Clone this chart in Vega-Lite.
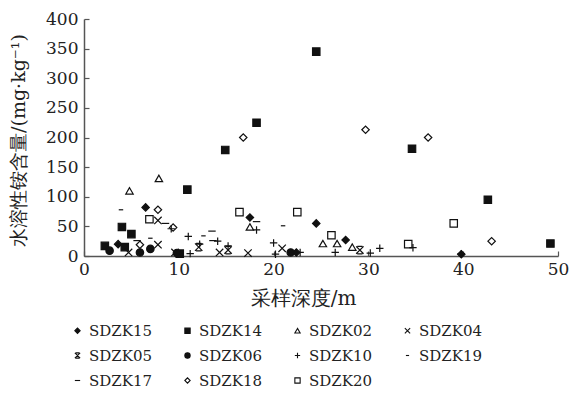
{
  "$schema": "https://vega.github.io/schema/vega-lite/v6.json",
  "autosize": "none",
  "width": 474,
  "height": 237,
  "padding": {"left": 84, "top": 19, "right": 11, "bottom": 138},
  "background": "white",
  "config": {
    "view": {"stroke": null},
    "font": "DejaVu Serif"
  },
  "data": {
    "values": [
      {"series": "SDZK15", "depth": 3.6, "value": 20},
      {"series": "SDZK15", "depth": 6.5, "value": 82},
      {"series": "SDZK15", "depth": 17.5, "value": 65},
      {"series": "SDZK15", "depth": 24.5, "value": 55},
      {"series": "SDZK15", "depth": 27.6, "value": 27},
      {"series": "SDZK15", "depth": 22.4, "value": 6},
      {"series": "SDZK15", "depth": 39.8, "value": 3},
      {"series": "SDZK14", "depth": 2.2, "value": 17},
      {"series": "SDZK14", "depth": 4.0, "value": 49},
      {"series": "SDZK14", "depth": 5.0, "value": 37},
      {"series": "SDZK14", "depth": 4.3, "value": 15},
      {"series": "SDZK14", "depth": 10.1, "value": 4},
      {"series": "SDZK14", "depth": 10.9, "value": 112},
      {"series": "SDZK14", "depth": 14.9, "value": 179},
      {"series": "SDZK14", "depth": 18.2, "value": 225},
      {"series": "SDZK14", "depth": 24.5, "value": 345},
      {"series": "SDZK14", "depth": 34.6, "value": 181},
      {"series": "SDZK14", "depth": 42.6, "value": 95},
      {"series": "SDZK14", "depth": 49.2, "value": 21},
      {"series": "SDZK02", "depth": 4.8, "value": 110},
      {"series": "SDZK02", "depth": 7.9, "value": 131},
      {"series": "SDZK02", "depth": 17.5, "value": 49},
      {"series": "SDZK02", "depth": 25.2, "value": 21},
      {"series": "SDZK02", "depth": 26.7, "value": 21},
      {"series": "SDZK02", "depth": 28.3, "value": 15},
      {"series": "SDZK04", "depth": 4.7, "value": 6},
      {"series": "SDZK04", "depth": 7.8, "value": 60},
      {"series": "SDZK04", "depth": 7.8, "value": 19},
      {"series": "SDZK04", "depth": 9.6, "value": 6},
      {"series": "SDZK04", "depth": 14.3, "value": 6},
      {"series": "SDZK04", "depth": 17.3, "value": 5},
      {"series": "SDZK04", "depth": 20.9, "value": 13},
      {"series": "SDZK05", "depth": 12.1, "value": 15},
      {"series": "SDZK05", "depth": 15.2, "value": 10},
      {"series": "SDZK05", "depth": 29.1, "value": 10},
      {"series": "SDZK06", "depth": 2.7, "value": 9},
      {"series": "SDZK06", "depth": 5.9, "value": 6},
      {"series": "SDZK06", "depth": 7.0, "value": 12},
      {"series": "SDZK06", "depth": 9.8, "value": 5},
      {"series": "SDZK06", "depth": 21.8, "value": 6},
      {"series": "SDZK10", "depth": 9.2, "value": 46},
      {"series": "SDZK10", "depth": 11.0, "value": 33},
      {"series": "SDZK10", "depth": 11.2, "value": 4},
      {"series": "SDZK10", "depth": 12.2, "value": 20},
      {"series": "SDZK10", "depth": 14.1, "value": 25},
      {"series": "SDZK10", "depth": 15.2, "value": 17},
      {"series": "SDZK10", "depth": 18.2, "value": 44},
      {"series": "SDZK10", "depth": 20.0, "value": 22},
      {"series": "SDZK10", "depth": 20.2, "value": 3},
      {"series": "SDZK10", "depth": 22.8, "value": 6},
      {"series": "SDZK10", "depth": 26.5, "value": 6},
      {"series": "SDZK10", "depth": 30.2, "value": 5},
      {"series": "SDZK10", "depth": 31.2, "value": 13},
      {"series": "SDZK10", "depth": 34.7, "value": 14},
      {"series": "SDZK10", "depth": 39.8, "value": 4},
      {"series": "SDZK19", "depth": 3.9, "value": 78},
      {"series": "SDZK19", "depth": 7.0, "value": 30},
      {"series": "SDZK19", "depth": 12.6, "value": 34},
      {"series": "SDZK19", "depth": 21.0, "value": 51},
      {"series": "SDZK17", "depth": 5.6, "value": 26},
      {"series": "SDZK17", "depth": 8.6, "value": 55},
      {"series": "SDZK17", "depth": 13.5, "value": 42},
      {"series": "SDZK17", "depth": 13.6, "value": 26},
      {"series": "SDZK17", "depth": 18.2, "value": 58},
      {"series": "SDZK18", "depth": 5.9, "value": 19},
      {"series": "SDZK18", "depth": 7.8, "value": 78},
      {"series": "SDZK18", "depth": 9.4, "value": 48},
      {"series": "SDZK18", "depth": 16.8, "value": 200},
      {"series": "SDZK18", "depth": 29.7, "value": 213},
      {"series": "SDZK18", "depth": 36.3, "value": 200},
      {"series": "SDZK18", "depth": 43.0, "value": 25},
      {"series": "SDZK20", "depth": 6.9, "value": 62},
      {"series": "SDZK20", "depth": 16.4, "value": 74},
      {"series": "SDZK20", "depth": 22.5, "value": 74},
      {"series": "SDZK20", "depth": 26.1, "value": 35},
      {"series": "SDZK20", "depth": 34.2, "value": 20},
      {"series": "SDZK20", "depth": 39.0, "value": 55}
    ]
  },
  "mark": {"type": "point", "opacity": 1, "strokeWidth": 1.2, "size": 55},
  "encoding": {
    "x": {
      "field": "depth", "type": "quantitative",
      "scale": {"domain": [0, 50], "nice": false, "zero": true},
      "axis": {
        "title": "采样深度/m", "values": [0, 10, 20, 30, 40, 50], "grid": false,
        "domainColor": "#555", "domainWidth": 1.5, "tickColor": "#555", "tickSize": -5, "tickWidth": 1.2,
        "labelFont": "DejaVu Serif", "labelFontSize": 17, "labelColor": "#222", "labelPadding": 10,
        "labelFlush": false,
        "titleFont": "DejaVu Serif", "titleFontSize": 20, "titleFontWeight": "normal", "titleColor": "#222",
        "titleX": 219, "titleY": 32, "titleAnchor": null, "titleAlign": "center", "titleBaseline": "top"
      }
    },
    "y": {
      "field": "value", "type": "quantitative",
      "scale": {"domain": [0, 400], "nice": false},
      "axis": {
        "title": "水溶性铵含量/(mg·kg⁻¹)", "values": [0, 50, 100, 150, 200, 250, 300, 350, 400], "grid": false,
        "domainColor": "#555", "domainWidth": 1.5, "tickColor": "#555", "tickSize": -5, "tickWidth": 1.2,
        "labelFont": "DejaVu Serif", "labelFontSize": 17, "labelColor": "#222", "labelPadding": 11,
        "labelFlush": false,
        "titleFont": "DejaVu Serif", "titleFontSize": 19, "titleFontWeight": "normal", "titleColor": "#222",
        "titleX": -66, "titleY": 121, "titleAngle": 270, "titleAlign": "center", "titleBaseline": "middle"
      }
    },
    "shape": {
      "field": "series", "type": "nominal",
      "scale": {
        "domain": ["SDZK15", "SDZK14", "SDZK02", "SDZK04", "SDZK05", "SDZK06", "SDZK10", "SDZK19", "SDZK17", "SDZK18", "SDZK20"],
        "range": ["diamond", "square", "triangle-up", "M-1,-1L1,1M-1,1L1,-1", "M-1,-1L1,1M-1,1L1,-1M-0.7,-1L0.7,-1M-0.7,1L0.7,1", "circle", "M-1,0L1,0M0,-1L0,1", "M-0.6,0L0.6,0", "M-1,0L1,0", "diamond", "square"]
      },
      "legend": {
        "title": null, "orient": "none", "legendX": -14, "legendY": 304, "columns": 4, "direction": "horizontal",
        "padding": 0, "columnPadding": 27, "rowPadding": 9, "symbolSize": 28, "symbolStrokeWidth": 1.1,
        "labelFont": "DejaVu Serif", "labelFontSize": 15, "labelColor": "#222", "labelOffset": 4
      }
    },
    "fill": {
      "field": "series", "type": "nominal",
      "scale": {
        "domain": ["SDZK15", "SDZK14", "SDZK02", "SDZK04", "SDZK05", "SDZK06", "SDZK10", "SDZK19", "SDZK17", "SDZK18", "SDZK20"],
        "range": ["#111", "#111", "transparent", "transparent", "transparent", "#111", "transparent", "transparent", "transparent", "transparent", "transparent"]
      },
      "legend": {
        "title": null, "orient": "none", "legendX": -14, "legendY": 304, "columns": 4, "direction": "horizontal",
        "padding": 0, "columnPadding": 27, "rowPadding": 9, "symbolSize": 28, "symbolStrokeWidth": 1.1,
        "labelFont": "DejaVu Serif", "labelFontSize": 15, "labelColor": "#222", "labelOffset": 4
      }
    },
    "stroke": {
      "field": "series", "type": "nominal",
      "scale": {
        "domain": ["SDZK15", "SDZK14", "SDZK02", "SDZK04", "SDZK05", "SDZK06", "SDZK10", "SDZK19", "SDZK17", "SDZK18", "SDZK20"],
        "range": ["#111", "#111", "#111", "#111", "#111", "#111", "#111", "#111", "#111", "#111", "#111"]
      },
      "legend": {
        "title": null, "orient": "none", "legendX": -14, "legendY": 304, "columns": 4, "direction": "horizontal",
        "padding": 0, "columnPadding": 27, "rowPadding": 9, "symbolSize": 28, "symbolStrokeWidth": 1.1,
        "labelFont": "DejaVu Serif", "labelFontSize": 15, "labelColor": "#222", "labelOffset": 4
      }
    }
  }
}
